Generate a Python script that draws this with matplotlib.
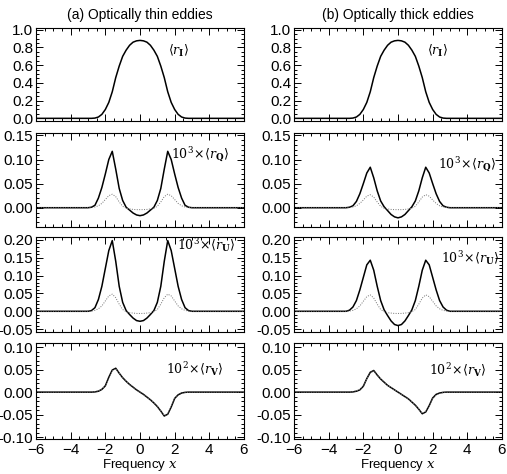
import matplotlib
matplotlib.use('Agg')
import matplotlib.pyplot as plt
from matplotlib.ticker import MultipleLocator, AutoMinorLocator, FormatStrFormatter

plt.rcParams['font.family'] = ['Liberation Sans', 'DejaVu Sans']
plt.rcParams['mathtext.fontset'] = 'dejavuserif'

# frequency grid
freq = [-6.0, -3.0, -2.8, -2.6, -2.4, -2.2, -2.0, -1.8, -1.6, -1.4, -1.2, -1.0, -0.8, -0.6, -0.4, -0.2,
        0.0, 0.2, 0.4, 0.6, 0.8, 1.0, 1.2, 1.4, 1.6, 1.8, 2.0, 2.2, 2.4, 2.6, 2.8, 3.0, 6.0]

# <r_I>, same in both columns
r_I = [0.0, 0.0, 0.0, 0.003, 0.015, 0.045, 0.10, 0.18, 0.30, 0.46, 0.59, 0.70, 0.77, 0.825, 0.86, 0.875,
       0.88, 0.875, 0.86, 0.825, 0.77, 0.70, 0.59, 0.46, 0.30, 0.18, 0.10, 0.045, 0.015, 0.003, 0.0, 0.0, 0.0]

# 10^3 x <r_Q>
q_thin = [0.0, 0.0, 0.001, 0.005, 0.02, 0.042, 0.07, 0.10, 0.117, 0.08, 0.04, 0.015, 0.001, -0.005, -0.011, -0.015,
          -0.0165, -0.015, -0.011, -0.005, 0.001, 0.015, 0.04, 0.08, 0.117, 0.10, 0.07, 0.042, 0.02, 0.005, 0.001, 0.0, 0.0]
q_thin_dot = [0.0, 0.0, 0.0005, 0.0015, 0.004, 0.009, 0.017, 0.025, 0.028, 0.023, 0.012, 0.003, -0.001, -0.0025, -0.0035, -0.004,
              -0.004, -0.004, -0.0035, -0.0025, -0.001, 0.003, 0.012, 0.023, 0.028, 0.025, 0.017, 0.009, 0.004, 0.0015, 0.0005, 0.0, 0.0]
q_thick = [0.0, 0.0, 0.001, 0.004, 0.013, 0.029, 0.050, 0.072, 0.084, 0.062, 0.035, 0.014, 0.002, -0.006, -0.014, -0.019,
           -0.021, -0.019, -0.014, -0.006, 0.002, 0.014, 0.035, 0.062, 0.084, 0.072, 0.050, 0.029, 0.013, 0.004, 0.001, 0.0, 0.0]
q_thick_dot = [0.0, 0.0, 0.0005, 0.0015, 0.004, 0.009, 0.016, 0.024, 0.027, 0.022, 0.012, 0.003, -0.001, -0.0025, -0.0035, -0.004,
               -0.004, -0.004, -0.0035, -0.0025, -0.001, 0.003, 0.012, 0.022, 0.027, 0.024, 0.016, 0.009, 0.004, 0.0015, 0.0005, 0.0, 0.0]

# 10^3 x <r_U>
u_thin = [0.0, 0.0, 0.002, 0.01, 0.033, 0.07, 0.12, 0.17, 0.198, 0.14, 0.07, 0.025, 0.002, -0.009, -0.019, -0.026,
          -0.028, -0.026, -0.019, -0.009, 0.002, 0.025, 0.07, 0.14, 0.198, 0.17, 0.12, 0.07, 0.033, 0.01, 0.002, 0.0, 0.0]
u_thin_dot = [0.0, 0.0, 0.0008, 0.0025, 0.007, 0.015, 0.029, 0.043, 0.048, 0.038, 0.02, 0.005, -0.001, -0.004, -0.005, -0.006,
              -0.006, -0.006, -0.005, -0.004, -0.001, 0.005, 0.02, 0.038, 0.048, 0.043, 0.029, 0.015, 0.007, 0.0025, 0.0008, 0.0, 0.0]
u_thick = [0.0, 0.0, 0.003, 0.012, 0.03, 0.06, 0.095, 0.13, 0.143, 0.115, 0.07, 0.03, 0.004, -0.012, -0.027, -0.037,
           -0.040, -0.037, -0.027, -0.012, 0.004, 0.03, 0.07, 0.115, 0.143, 0.13, 0.095, 0.06, 0.03, 0.012, 0.003, 0.0, 0.0]
u_thick_dot = [0.0, 0.0, 0.0008, 0.0025, 0.007, 0.015, 0.028, 0.041, 0.046, 0.037, 0.02, 0.005, -0.001, -0.004, -0.005, -0.006,
               -0.006, -0.006, -0.005, -0.004, -0.001, 0.005, 0.02, 0.037, 0.046, 0.041, 0.028, 0.015, 0.007, 0.0025, 0.0008, 0.0, 0.0]

# 10^2 x <r_V>
v_thin = [0.0, 0.0, 0.0, 0.0005, 0.002, 0.006, 0.014, 0.033, 0.049, 0.053, 0.042, 0.032, 0.024, 0.017, 0.011, 0.005,
          0.0, -0.005, -0.011, -0.017, -0.024, -0.032, -0.042, -0.053, -0.049, -0.033, -0.014, -0.006, -0.002, -0.0005, 0.0, 0.0, 0.0]
v_thin_dot = [0.0, 0.0, 0.0003, 0.001, 0.003, 0.007, 0.015, 0.032, 0.048, 0.052, 0.042, 0.032, 0.024, 0.017, 0.011, 0.005,
              0.0, -0.005, -0.011, -0.017, -0.024, -0.032, -0.042, -0.052, -0.048, -0.032, -0.015, -0.007, -0.003, -0.001, -0.0003, 0.0, 0.0]
v_thick = [0.0, 0.0, 0.0, 0.0005, 0.002, 0.005, 0.013, 0.030, 0.044, 0.048, 0.038, 0.029, 0.022, 0.015, 0.010, 0.005,
           0.0, -0.005, -0.010, -0.015, -0.022, -0.029, -0.038, -0.048, -0.044, -0.030, -0.013, -0.005, -0.002, -0.0005, 0.0, 0.0, 0.0]
v_thick_dot = [0.0, 0.0, 0.0003, 0.001, 0.003, 0.006, 0.014, 0.029, 0.043, 0.047, 0.038, 0.029, 0.022, 0.015, 0.010, 0.005,
               0.0, -0.005, -0.010, -0.015, -0.022, -0.029, -0.038, -0.047, -0.043, -0.029, -0.014, -0.006, -0.003, -0.001, -0.0003, 0.0, 0.0]

titles = ['(a) Optically thin eddies', '(b) Optically thick eddies']
labels = [r'$\langle \mathit{r}_{\mathbf{I}}\rangle$', r'$10^3\!\times\!\langle \mathit{r}_{\mathbf{Q}}\rangle$',
          r'$10^3\!\times\!\langle \mathit{r}_{\mathbf{U}}\rangle$', r'$10^2\!\times\!\langle \mathit{r}_{\mathbf{V}}\rangle$']

solid = [[r_I, q_thin, u_thin, v_thin], [r_I, q_thick, u_thick, v_thick]]
dotted = [[None, q_thin_dot, u_thin_dot, v_thin_dot], [None, q_thick_dot, u_thick_dot, v_thick_dot]]

ylims = [(-0.03, 1.02), (-0.04, 0.155), (-0.058, 0.208), (-0.104, 0.109)]
ymajor = [0.2, 0.05, 0.05, 0.05]
yfmt = ['%.1f', '%.2f', '%.2f', '%.2f']
label_pos = [[(1.6, 0.76), (1.8, 0.11), (2.15, 0.185), (1.5, 0.052)],
             [(1.7, 0.76), (2.3, 0.09), (2.5, 0.15), (1.8, 0.05)]]

W, H = 507, 474
fig = plt.figure(figsize=(W / 100, H / 100), dpi=100)

col_x = [36, 294]
col_w = 208
rows = [(28, 121), (133, 227), (237, 332), (343, 439)]

for c in range(2):
    for r in range(4):
        top, bot = rows[r]
        ax = fig.add_axes([col_x[c] / W, 1 - bot / H, col_w / W, (bot - top) / H])
        ax.plot(freq, solid[c][r], color='black', lw=1.1)
        if dotted[c][r] is not None:
            ax.plot(freq, dotted[c][r], color='0.45', lw=0.7, linestyle=(0, (1, 1.5)))
        ax.set_xlim(-6, 6)
        ax.set_ylim(*ylims[r])
        ax.xaxis.set_major_locator(MultipleLocator(2))
        ax.xaxis.set_minor_locator(MultipleLocator(0.5))
        ax.yaxis.set_major_locator(MultipleLocator(ymajor[r]))
        ax.yaxis.set_minor_locator(AutoMinorLocator(5 if r > 0 else 4))
        ax.yaxis.set_major_formatter(FormatStrFormatter(yfmt[r]))
        ax.tick_params(which='both', direction='in', top=True, right=True, labelsize=11, width=0.7)
        ax.tick_params(which='major', length=5)
        ax.tick_params(which='minor', length=2.5)
        ax.tick_params(axis='y', pad=2)
        ax.tick_params(axis='x', pad=3)
        for s in ax.spines.values():
            s.set_linewidth(0.8)
        if r < 3:
            ax.tick_params(labelbottom=False)
        lx, ly = label_pos[c][r]
        ax.text(lx, ly, labels[r], fontsize=9, va='center', ha='left')
    fig.text((col_x[c] + col_w / 2) / W, 1 - 15 / H, titles[c], ha='center', va='center',
             fontsize=10)
    fig.text((col_x[c] + col_w / 2) / W, 0.002, r'Frequency $x$', ha='center', va='bottom', fontsize=9.5)

fig.savefig('out.png', dpi=100)
